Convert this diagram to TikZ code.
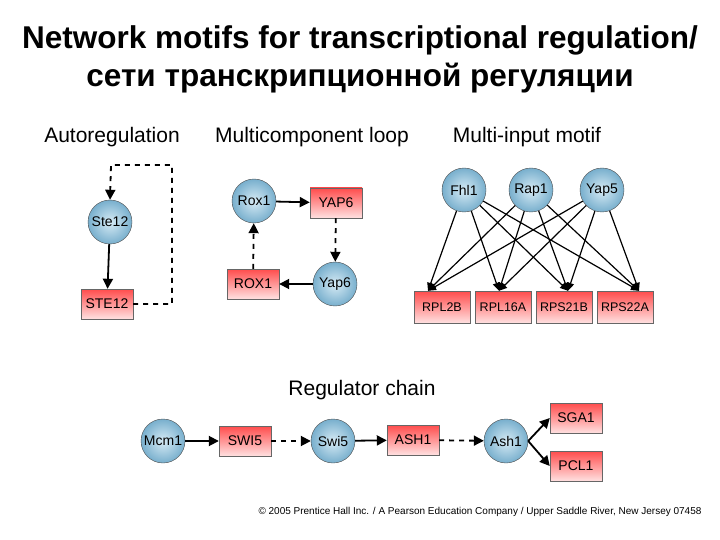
\documentclass[tikz,border=0pt]{standalone}
\usepackage{fontspec}
\setmainfont{Liberation Sans}
\usetikzlibrary{arrows.meta}
\definecolor{pin}{RGB}{215,235,245}
\definecolor{pout}{RGB}{120,175,205}
\begin{document}
\begin{tikzpicture}[x=1pt,y=-1pt,
  prot/.style={circle,draw=black!70,minimum size=44pt,inner sep=0pt,inner color=pin,outer color=pout,font=\fontsize{14}{15}\selectfont},
  gene/.style={rectangle,draw=black!60,minimum width=52pt,minimum height=30pt,inner sep=0pt,top color=red!70,bottom color=red!12,font=\fontsize{14}{15}\selectfont},
  wgene/.style={gene,minimum width=56pt,minimum height=32pt,font=\fontsize{12.5}{13}\selectfont},
  act/.style={-{Triangle[length=10pt,width=10pt]},line width=1.8pt},
  dact/.style={act,dash pattern=on 5pt off 5pt},
  head/.style={font=\fontsize{21}{23}\selectfont}]
\useasboundingbox (0,0) rectangle (720,540);
\node[font=\bfseries\fontsize{31.5}{34}\selectfont] (t1) at (360,40) {Network motifs for transcriptional regulation/};
\node[font=\bfseries\fontsize{31.5}{34}\selectfont] (t2) at (360,78) {сети транскрипционной регуляции};
\node[head] (h1) at (112,137) {Autoregulation};
\node[head] (h2) at (312,137) {Multicomponent loop};
\node[head] (h3) at (527,137) {Multi-input motif};
% autoregulation
\node[prot] (ste) at (110,222) {Ste12};
\node[gene] (STE) at (107,304) {STE12};
\draw[act] (ste) -- (STE);
\coordinate (c1) at (172,304);
\coordinate (c2) at (172,165);
\coordinate (c3) at (111,165);
\draw[dact] (STE.east) -- (c1) -- (c2) -- (c3) -- (ste.north);
% loop
\node[prot] (rox) at (254,201) {Rox1};
\node[gene] (YAP) at (336,203) {YAP6};
\node[prot] (yap) at (335,284) {Yap6};
\node[gene] (ROX) at (253,284) {ROX1};
\draw[act] (rox) -- (YAP);
\draw[dact] (YAP) -- (yap);
\draw[act] (yap) -- (ROX);
\draw[dact] (ROX) -- (rox);
% multi-input
\node[prot] (f) at (464,190) {Fhl1};
\node[prot] (r) at (531,190) {Rap1};
\node[prot] (y) at (602,190) {Yap5};
\node[wgene] (g1) at (442,307) {RPL2B};
\node[wgene] (g2) at (503,307) {RPL16A};
\node[wgene] (g3) at (564,307) {RPS21B};
\node[wgene] (g4) at (625,307) {RPS22A};
\foreach \s in {f,r,y}{
  \foreach \t/\dx in {g1/-14,g2/-4,g3/4,g4/14}{
    \draw[-{Triangle[length=8pt,width=7pt]},line width=1.2pt] (\s) -- ([xshift=\dx pt]\t.north);
  }}
% chain
\node[head] (h4) at (362,390) {Regulator chain};
\node[prot] (mcm) at (163,441) {Mcm1};
\node[gene] (SWI) at (245,441) {SWI5};
\node[prot] (swi) at (333,441) {Swi5};
\node[gene] (ASH) at (413,440) {ASH1};
\node[prot] (ash) at (506,441) {Ash1};
\node[gene] (SGA) at (576,418) {SGA1};
\node[gene] (PCL) at (576,466) {PCL1};
\draw[act] (mcm) -- (SWI);
\draw[dact] (SWI) -- (swi);
\draw[act] (swi) -- (ASH);
\draw[dact] (ASH) -- (ash);
\draw[act] (ash.east) -- (SGA.west);
\draw[act] (ash.east) -- (PCL.west);
\node[font=\fontsize{10}{11}\selectfont] (cp) at (480,512) {© 2005 Prentice Hall Inc. / A Pearson Education Company / Upper Saddle River, New Jersey 07458};
\end{tikzpicture}
\end{document}
